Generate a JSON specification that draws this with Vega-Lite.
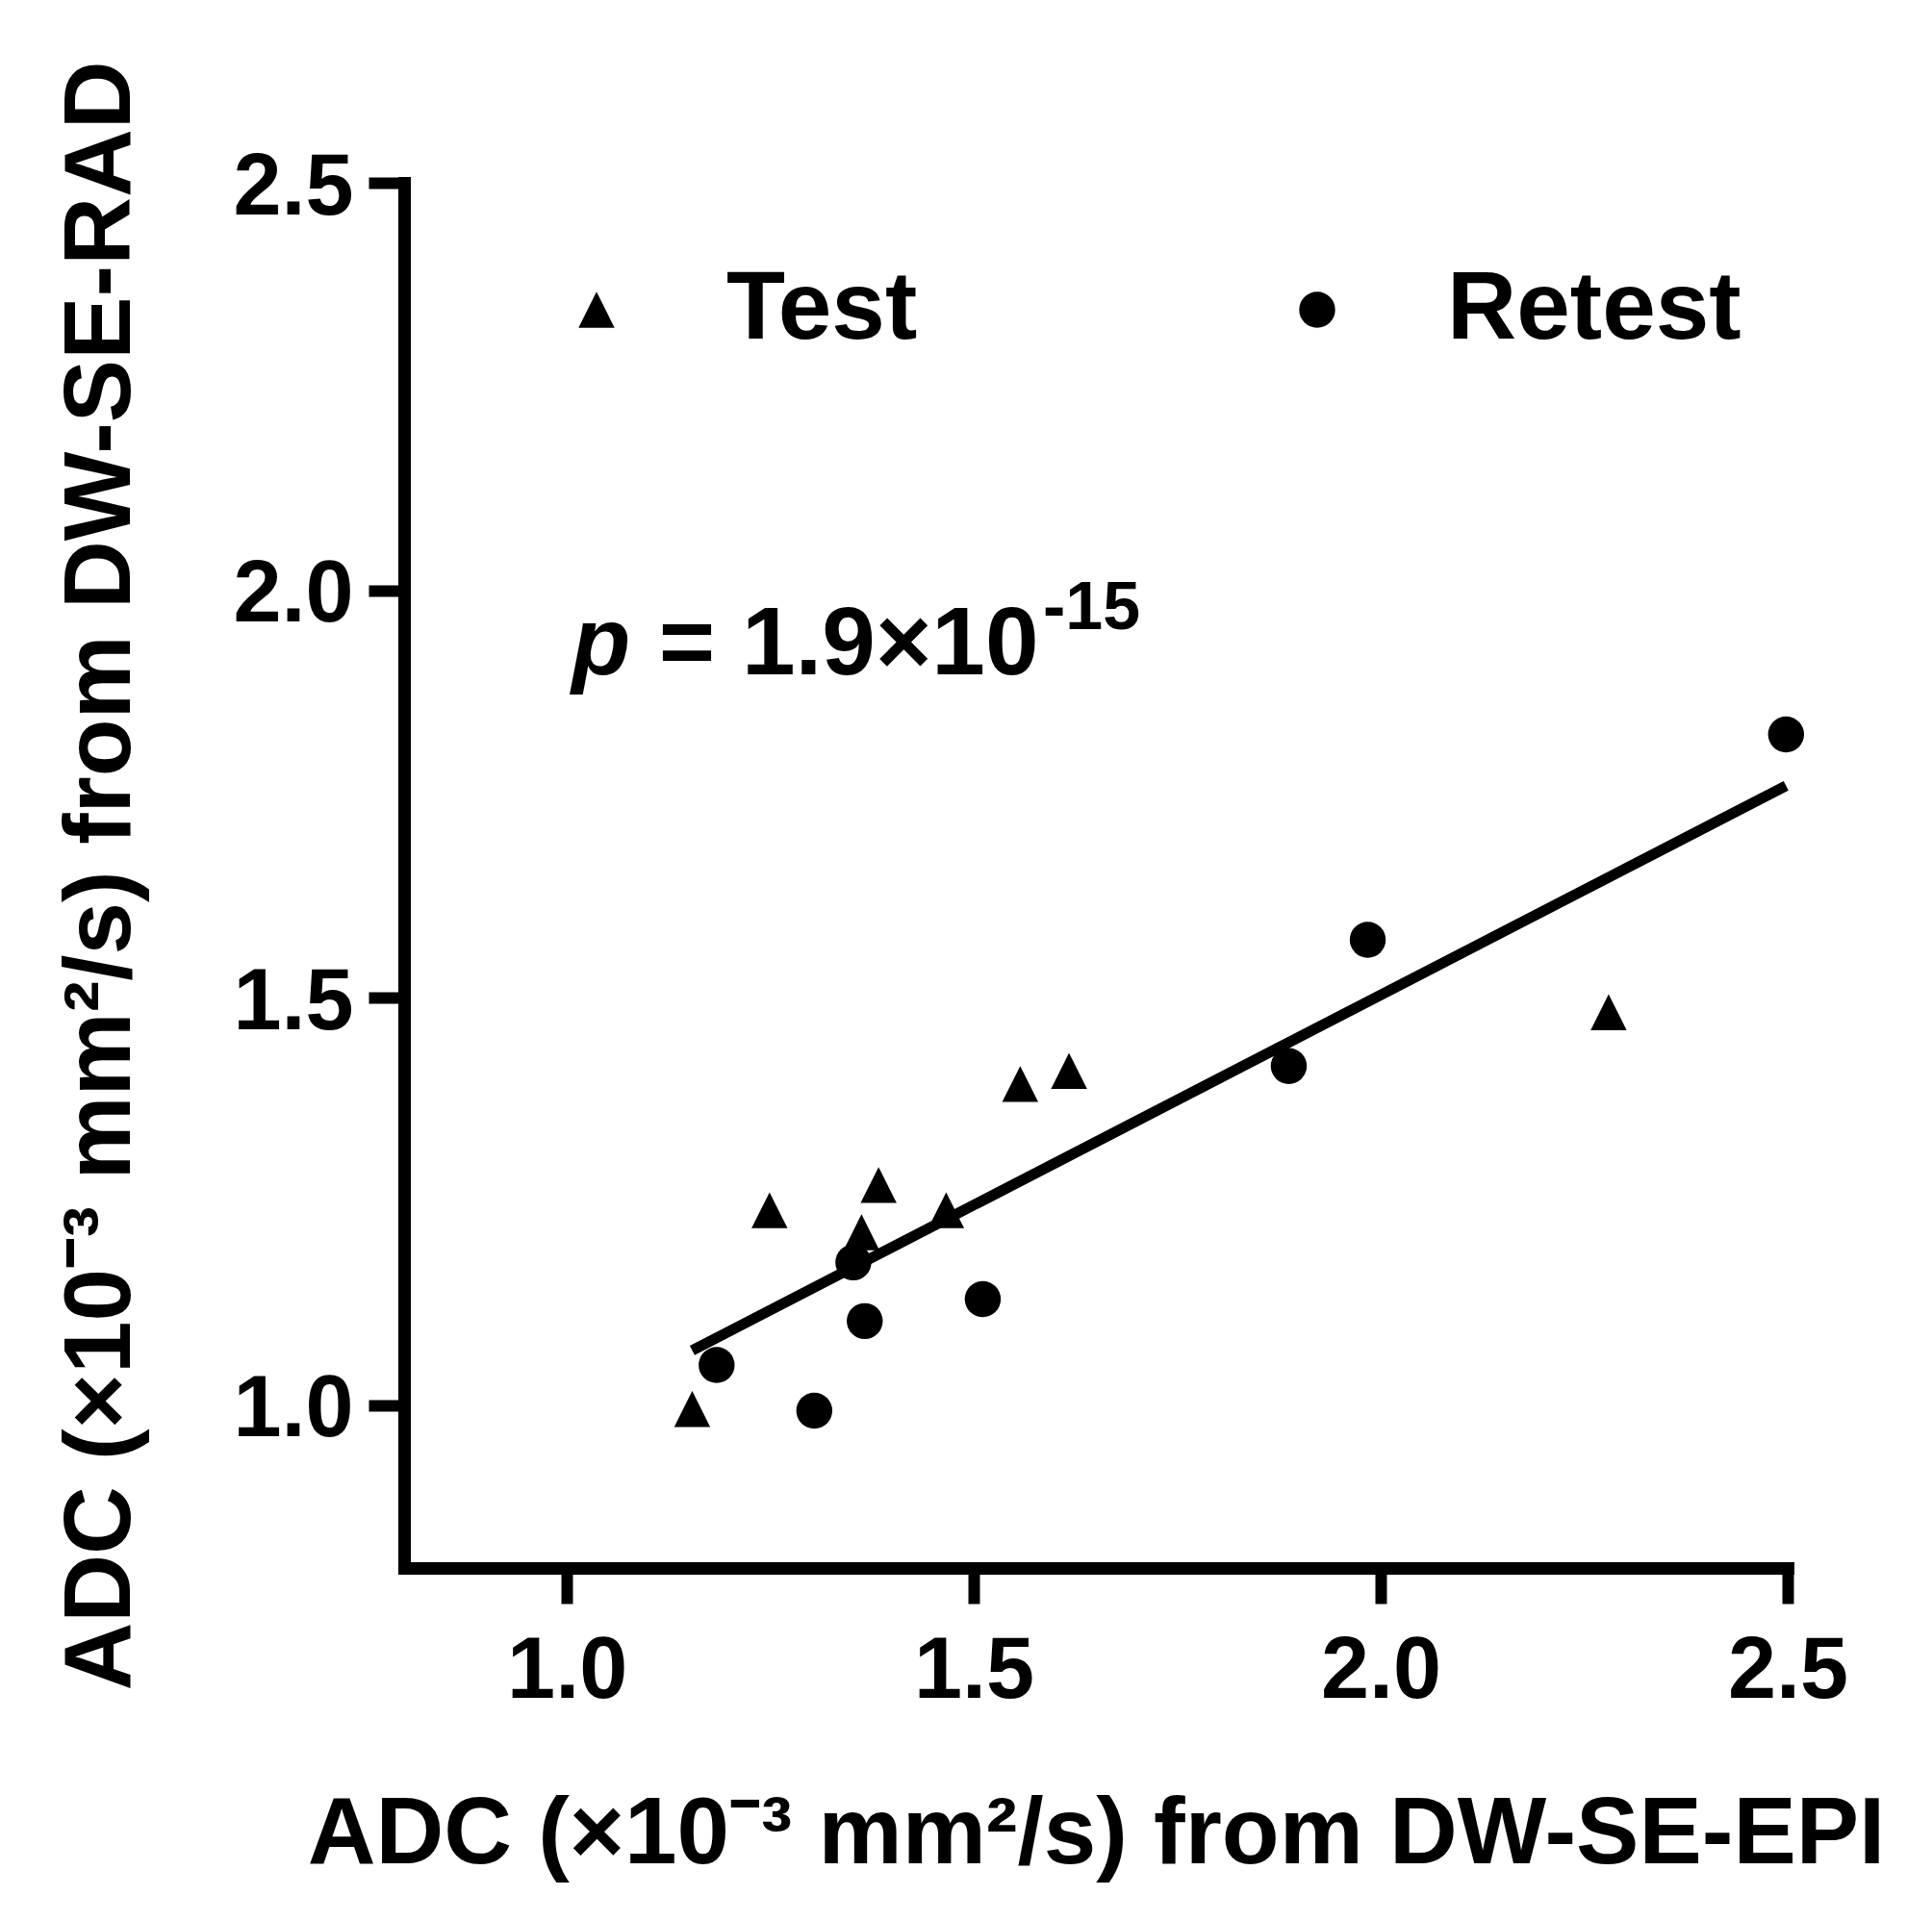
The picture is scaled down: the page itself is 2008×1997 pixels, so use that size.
{
  "$schema": "https://vega.github.io/schema/vega-lite/v6.json",
  "width": 1438,
  "height": 1440,
  "autosize": {"type": "none"},
  "padding": {"left": 420, "top": 190, "right": 150, "bottom": 367},
  "background": "white",
  "config": {
    "view": {"stroke": null},
    "font": "Liberation Sans",
    "axis": {
      "grid": false,
      "domainColor": "black",
      "domainWidth": 13,
      "domainCap": "square",
      "tickColor": "black",
      "tickWidth": 12,
      "tickSize": 37,
      "labelFont": "Liberation Sans",
      "labelFontWeight": "bold",
      "labelFontSize": 90,
      "labelColor": "black",
      "titleFont": "Liberation Sans",
      "titleFontWeight": "bold",
      "titleFontSize": 98,
      "titleColor": "black",
      "titleBaseline": "alphabetic"
    }
  },
  "layer": [
    {
      "data": {"values": [
        {"epi": 1.154, "rad": 1.067},
        {"epi": 2.498, "rad": 1.760}
      ]},
      "mark": {"type": "line", "color": "black", "strokeWidth": 11, "strokeCap": "butt"},
      "encoding": {
        "x": {"field": "epi", "type": "quantitative", "scale": {"domain": [0.8, 2.5], "nice": false, "zero": false}},
        "y": {"field": "rad", "type": "quantitative", "scale": {"domain": [0.8, 2.5], "nice": false, "zero": false}}
      }
    },
    {
      "data": {"values": [
        {"group": "Test", "epi": 1.154, "rad": 0.995},
        {"group": "Test", "epi": 1.249, "rad": 1.239},
        {"group": "Test", "epi": 1.362, "rad": 1.212},
        {"group": "Test", "epi": 1.383, "rad": 1.270},
        {"group": "Test", "epi": 1.466, "rad": 1.239},
        {"group": "Test", "epi": 1.557, "rad": 1.394},
        {"group": "Test", "epi": 1.617, "rad": 1.410},
        {"group": "Test", "epi": 2.280, "rad": 1.482},
        {"group": "Retest", "epi": 1.184, "rad": 1.049},
        {"group": "Retest", "epi": 1.304, "rad": 0.993},
        {"group": "Retest", "epi": 1.352, "rad": 1.175},
        {"group": "Retest", "epi": 1.366, "rad": 1.103},
        {"group": "Retest", "epi": 1.511, "rad": 1.130},
        {"group": "Retest", "epi": 1.887, "rad": 1.416},
        {"group": "Retest", "epi": 1.984, "rad": 1.571},
        {"group": "Retest", "epi": 2.498, "rad": 1.823}
      ]},
      "mark": {"type": "point", "filled": true, "color": "black", "opacity": 1, "size": 1400, "strokeWidth": 0},
      "encoding": {
        "x": {
          "field": "epi", "type": "quantitative",
          "scale": {"domain": [0.8, 2.5], "nice": false, "zero": false},
          "axis": {
            "values": [1.0, 1.5, 2.0, 2.5],
            "format": ".1f",
            "labelPadding": 26,
            "labelFlush": false,
            "titleY": 306,
            "title": "ADC (×10ˉ³ mm²/s) from DW-SE-EPI"
          }
        },
        "y": {
          "field": "rad", "type": "quantitative",
          "scale": {"domain": [0.8, 2.5], "nice": false, "zero": false},
          "axis": {
            "values": [1.0, 1.5, 2.0, 2.5],
            "format": ".1f",
            "labelPadding": 16,
            "labelOffset": 5,
            "labelFlush": false,
            "titleX": -286,
            "title": "ADC (×10ˉ³ mm²/s) from DW-SE-RAD"
          }
        },
        "shape": {
          "field": "group", "type": "nominal",
          "scale": {"domain": ["Test", "Retest"], "range": ["M0,-1L1,1L-1,1Z", "circle"]},
          "legend": {
            "title": null,
            "orient": "none",
            "legendX": 150,
            "legendY": 82,
            "direction": "horizontal",
            "columns": 2,
            "padding": 0,
            "symbolSize": 1400,
            "symbolFillColor": "black",
            "symbolStrokeWidth": 0,
            "symbolOpacity": 1,
            "labelFont": "Liberation Sans",
            "labelFontWeight": "bold",
            "labelFontSize": 100,
            "labelColor": "black",
            "labelOffset": 85,
            "labelLimit": 0,
            "columnPadding": 365
          }
        }
      }
    },
    {
      "data": {"values": [{"label": "p"}]},
      "mark": {"type": "text", "align": "left", "baseline": "alphabetic", "font": "Liberation Sans", "fontSize": 100, "fontWeight": "bold", "fontStyle": "italic", "color": "black"},
      "encoding": {
        "x": {"datum": 1.006, "type": "quantitative"},
        "y": {"datum": 1.897, "type": "quantitative"},
        "text": {"field": "label"}
      }
    },
    {
      "data": {"values": [{"label": "= 1.9×10"}]},
      "mark": {"type": "text", "align": "left", "baseline": "alphabetic", "font": "Liberation Sans", "fontSize": 100, "fontWeight": "bold", "color": "black"},
      "encoding": {
        "x": {"datum": 1.113, "type": "quantitative"},
        "y": {"datum": 1.897, "type": "quantitative"},
        "text": {"field": "label"}
      }
    },
    {
      "data": {"values": [{"label": "-15"}]},
      "mark": {"type": "text", "align": "left", "baseline": "alphabetic", "font": "Liberation Sans", "fontSize": 70, "fontWeight": "bold", "color": "black"},
      "encoding": {
        "x": {"datum": 1.585, "type": "quantitative"},
        "y": {"datum": 1.952, "type": "quantitative"},
        "text": {"field": "label"}
      }
    }
  ]
}
